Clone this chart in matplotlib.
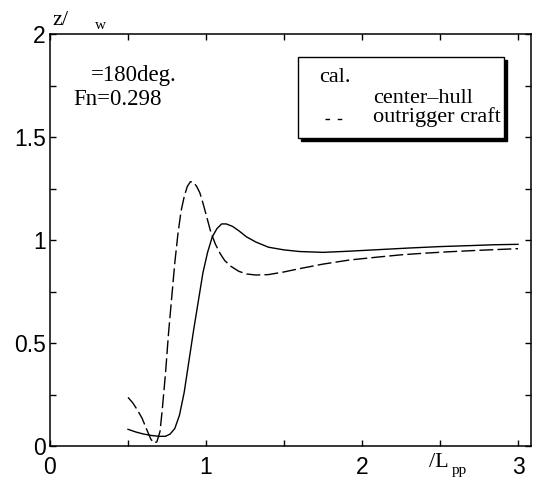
import numpy as np
import matplotlib.pyplot as plt
from matplotlib.patches import Rectangle
from matplotlib.lines import Line2D

plt.rcParams['font.family'] = ['Liberation Sans', 'DejaVu Sans']

# centre-hull only (solid)
x_center = [0.50, 0.55, 0.60, 0.65, 0.70, 0.74, 0.77, 0.80, 0.83, 0.86,
            0.89, 0.92, 0.95, 0.98, 1.01, 1.04, 1.07, 1.10, 1.13, 1.17,
            1.21, 1.26, 1.32, 1.40, 1.50, 1.60, 1.75, 1.90, 2.10, 2.30,
            2.50, 2.70, 2.85, 3.00]
y_center = [0.081, 0.068, 0.058, 0.051, 0.047, 0.047, 0.058, 0.085, 0.15, 0.26,
            0.41, 0.56, 0.70, 0.84, 0.94, 1.015, 1.055, 1.078, 1.078, 1.066,
            1.045, 1.015, 0.99, 0.965, 0.952, 0.944, 0.940, 0.945, 0.953, 0.961,
            0.968, 0.973, 0.977, 0.979]

# outrigger craft (dashed)
x_outrig = [0.50, 0.53, 0.56, 0.59, 0.62, 0.645, 0.665, 0.685, 0.705, 0.72,
            0.74, 0.76, 0.78, 0.80, 0.82, 0.84, 0.86, 0.88, 0.90, 0.92,
            0.94, 0.96, 0.98, 1.00, 1.03, 1.06, 1.09, 1.12, 1.16, 1.21,
            1.26, 1.32, 1.40, 1.50, 1.60, 1.75, 1.92, 2.10, 2.25, 2.40,
            2.56, 2.75, 3.00]
y_outrig = [0.236, 0.21, 0.175, 0.135, 0.08, 0.035, 0.015, 0.02, 0.07, 0.18,
            0.35, 0.55, 0.72, 0.89, 1.03, 1.14, 1.21, 1.26, 1.283, 1.28,
            1.26, 1.23, 1.18, 1.125, 1.04, 0.98, 0.935, 0.90, 0.872, 0.848,
            0.835, 0.830, 0.832, 0.845, 0.861, 0.883, 0.903, 0.917, 0.928, 0.936,
            0.943, 0.950, 0.958]

W, H = 537, 482
fig = plt.figure(figsize=(W / 100, H / 100), dpi=100)
# axes box in pixels: left 50, right 531, top 34, bottom 446
ax = fig.add_axes([50 / W, (H - 446) / H, 481 / W, 412 / H])

ax.plot(x_center, y_center, color='black', lw=1.0)
ax.plot(x_outrig, y_outrig, color='black', lw=1.0, linestyle=(0, (10, 3)))

ax.set_xlim(0, 3.083)
ax.set_ylim(0, 2)
ax.set_xticks([0, 1, 2, 3])
ax.set_xticks([0.5, 1.5, 2.5], minor=True)
ax.set_yticks([0, 0.5, 1, 1.5, 2])
ax.set_yticklabels(['0', '0.5', '1', '1.5', '2'])
ax.set_yticks([0.25, 0.75, 1.25, 1.75], minor=True)
ax.tick_params(which='both', direction='in', length=4.5, width=1.0,
               top=True, right=True, labelsize=16.5)
ax.tick_params(axis='x', which='major', pad=7)
ax.tick_params(axis='y', which='major', pad=3)
for s in ax.spines.values():
    s.set_linewidth(1.1)

serif = ['Liberation Serif', 'DejaVu Serif']

def px_text(x, y, s, size=16, **kw):
    fig.text(x / W, 1 - y / H, s, fontsize=size, family=serif,
             va='baseline', ha='left', **kw)

# axis captions
px_text(52, 25, 'z/', 16)
px_text(95, 29, 'w', 11)
px_text(429, 467, '/L', 16)
px_text(452, 474, 'pp', 11)

# condition labels
px_text(91, 81, '=180deg.', 16.5)
px_text(73, 105, 'Fn=0.298', 16.5)

# legend box with drop shadow
shadow = Rectangle((301 / W, 1 - 141 / H), 206 / W, 81 / H,
                   transform=fig.transFigure, facecolor='black',
                   edgecolor='black', zorder=3)
box = Rectangle((298 / W, 1 - 138 / H), 206 / W, 81 / H,
                transform=fig.transFigure, facecolor='white',
                edgecolor='black', lw=1.0, zorder=4)
fig.patches.extend([shadow, box])

fig.text(319 / W, 1 - 82 / H, 'cal.', fontsize=16, family=serif,
         va='baseline', zorder=5)
fig.text(373 / W, 1 - 103 / H, 'center\u2013hull', fontsize=16, family=serif,
         va='baseline', zorder=5)
fig.text(373 / W, 1 - 122 / H, 'outrigger craft', fontsize=16, family=serif,
         va='baseline', zorder=5)
fig.lines.append(Line2D([325 / W, 343 / W], [1 - 119 / H, 1 - 119 / H],
                        transform=fig.transFigure, color='black', lw=1.0,
                        linestyle=(0, (3.3, 5.5)), zorder=5))

fig.savefig('out.png', dpi=100)
